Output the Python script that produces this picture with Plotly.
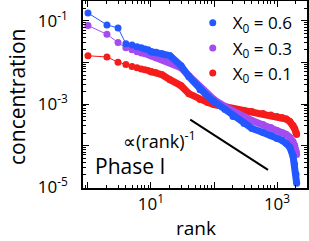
import plotly.graph_objects as go

# ---- data ----
ranks_early = [1, 2, 3, 4, 5, 6, 7, 8, 9, 10]
ranks_dense = [10, 12, 15, 20, 30, 40, 60, 80, 100, 150, 200, 300, 400, 600,
               800, 1000, 1200, 1400, 1600, 1800, 1900, 2000, 2050]

blue_early = [0.1555, 0.0802, 0.0680, 0.0281, 0.0263, 0.0241, 0.0226, 0.0211, 0.0202, 0.0181]
blue_dense = [0.0181, 0.0177, 0.0162, 0.01452, 0.00836, 0.00456, 0.00222, 0.00151, 0.001148,
              0.000738, 0.000502, 0.000341, 0.000259, 0.000208, 0.000176, 0.000149,
              0.000134, 0.000113, 0.0000908, 0.0000552, 0.0000356, 0.0000205, 0.0000125]

purple_early = [0.0776, 0.0477, 0.0301, 0.0226, 0.0202, 0.0181, 0.01694, 0.0162, 0.01534, 0.01452]
purple_dense = [0.01452, 0.0130, 0.01164, 0.01042, 0.00748, 0.00482, 0.00262, 0.00169, 0.00128,
                0.000871, 0.000661, 0.000502, 0.000403, 0.000323, 0.000274, 0.000232,
                0.000208, 0.000186, 0.0001576, 0.0001264, 0.0001014, 0.0000728, 0.0000610]

red_early = [0.01452, 0.01358, 0.01019, 0.00893, 0.00800, 0.00748, 0.0070, 0.0067, 0.00641, 0.0060]
red_dense = [0.0060, 0.00568, 0.00509, 0.00386, 0.00277, 0.00178, 0.00128, 0.001086, 0.000973,
             0.000871, 0.000780, 0.000699, 0.000661, 0.000592, 0.000542, 0.000502, 0.000475,
             0.000435, 0.000381, 0.000305, 0.000259, 0.000208, 0.000184]

guide_rank = [42, 720]
guide_conc = [4.2e-4, 2.6e-5]

series = [
    ("X<sub>0</sub> = 0.1", "#f51c1c", red_early, red_dense, 3),
    ("X<sub>0</sub> = 0.3", "#a34cf0", purple_early, purple_dense, 2),
    ("X<sub>0</sub> = 0.6", "#2457ff", blue_early, blue_dense, 1),
]

x_tickvals = [1, 10, 100, 1000]
x_ticktext = ["", "10<sup>1</sup>", "", "10<sup>3</sup>"]
y_tickvals = [1e-5, 1e-4, 1e-3, 1e-2, 1e-1]
y_ticktext = ["10<sup>-5</sup>", "", "10<sup>-3</sup>", "", "10<sup>-1</sup>"]

FONT = "Open Sans"

fig = go.Figure()

fig.add_trace(go.Scatter(x=guide_rank, y=guide_conc, mode="lines",
                         line=dict(color="black", width=2), showlegend=False,
                         hoverinfo="skip"))

for name, color, early, dense, rank in series:
    fig.add_trace(go.Scatter(x=ranks_early, y=early, mode="lines",
                             line=dict(color=color, width=1), showlegend=False))
    fig.add_trace(go.Scatter(x=ranks_dense, y=dense, mode="lines+markers",
                             line=dict(color=color, width=7),
                             marker=dict(color=color, size=7), showlegend=False))
    fig.add_trace(go.Scatter(x=ranks_early, y=early, mode="markers", name=name,
                             marker=dict(color=color, size=7), legendrank=rank))

axis_common = dict(
    showline=True, linecolor="black", linewidth=1.5, mirror="allticks",
    ticks="inside", ticklen=6, tickwidth=1.2, tickcolor="black",
    showgrid=False, zeroline=False, automargin=False,
    tickfont=dict(family=FONT, size=17, color="black"),
    minor=dict(ticks="inside", ticklen=3.5, tickwidth=1, tickcolor="black",
               showgrid=False, dtick="D1"),
)

fig.update_xaxes(type="log", range=[-0.079, 3.476], tickmode="array",
                 tickvals=x_tickvals, ticktext=x_ticktext, **axis_common)
fig.update_yaxes(type="log", range=[-5.02, -0.52], tickmode="array",
                 tickvals=y_tickvals, ticktext=y_ticktext,
                 ticklabelstandoff=10, **axis_common)

# axis titles
fig.add_annotation(x=0.504, y=-0.212, xref="paper", yref="paper",
                   text="rank", showarrow=False,
                   font=dict(family=FONT, size=19, color="black"),
                   xanchor="center", yanchor="middle")
fig.add_annotation(x=-0.2946, y=0.487, xref="paper", yref="paper",
                   text="concentration", showarrow=False, textangle=-90,
                   font=dict(family=FONT, size=21, color="black"),
                   xanchor="center", yanchor="middle")

fig.add_annotation(x=0.34, y=0.255, xref="paper", yref="paper",
                   text="∝(rank)<sup>-1</sup>", showarrow=False,
                   font=dict(family=FONT, size=18, color="black"),
                   xanchor="center", yanchor="middle")
fig.add_annotation(x=0.21, y=0.118, xref="paper", yref="paper",
                   text="Phase I", showarrow=False,
                   font=dict(family=FONT, size=21, color="black"),
                   xanchor="center", yanchor="middle")

fig.update_layout(
    width=309, height=241,
    margin=dict(l=83, r=2, t=1, b=53, autoexpand=False),
    paper_bgcolor="white", plot_bgcolor="white",
    legend=dict(x=0.49, y=0.977, xanchor="left", yanchor="top",
                bgcolor="rgba(0,0,0,0)", font=dict(family=FONT, size=17, color="black"),
                itemwidth=30, tracegroupgap=0),
    showlegend=True,
)

fig.write_html("out.html", config={"displayModeBar": False},
               post_script="document.body.style.margin='0';"
                           "document.documentElement.style.margin='0';"
                           "document.body.style.overflow='hidden';")
